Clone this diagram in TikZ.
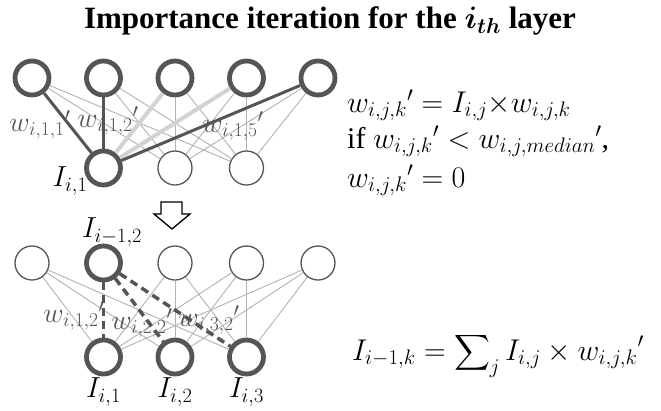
\documentclass[tikz,border=0pt]{standalone}
\usepackage{fix-cm}
\usepackage{amsmath}
\usepackage{fontspec}
\setmainfont{Liberation Serif}
\usetikzlibrary{calc}

\definecolor{netgray}{HTML}{555555}
\definecolor{linkgray}{HTML}{B2B2B2}
\definecolor{palegray}{HTML}{D2D2D2}

\tikzset{
	neuron/.style={circle, draw=netgray, line width=1.3pt, minimum size=34pt, inner sep=0pt},
	hotneuron/.style={neuron, line width=4.8pt},
	link/.style={draw=linkgray, line width=0.9pt},
	strong/.style={draw=netgray, line width=3pt},
	weak/.style={draw=palegray, line width=4pt},
	kept/.style={draw=netgray, line width=3.5pt, dash pattern=on 8pt off 5pt},
	weight/.style={font=\fontsize{28}{28}\selectfont, text=netgray, inner sep=0pt},
	imp/.style={font=\fontsize{29}{29}\selectfont, inner sep=0pt},
	formula/.style={font=\fontsize{30}{34}\selectfont, inner sep=0pt, anchor=base west}
}

\begin{document}
\begin{tikzpicture}[x=1pt, y=-1pt]
		%%%%% START %%%%%
		\useasboundingbox (0,0) rectangle (661,410);
		
		\node[font=\fontsize{31}{36}\selectfont\bfseries, inner sep=0pt] (title) at (330,21)
			{Importance iteration for the {\boldmath$i_{th}$} layer};
		
		% upper network: importance of the weights
		\foreach \k in {1,...,5}
			\node[hotneuron] (t\k) at ({32+71.5*(\k-1)},78) {};
		\node[hotneuron] (b1) at (103.5,168) {};
		\node[neuron] (b2) at (175,168) {};
		\node[neuron] (b3) at (246.5,168) {};
		
		\foreach \k in {1,...,5}
			\foreach \j in {2,3}
				\draw[link] (t\k) -- (b\j);
		\draw[weak] (t3) -- (b1);
		\draw[weak] (t4) -- (b1);
		\draw[strong] (t1) -- (b1);
		\draw[strong] (t2) -- (b1);
		\draw[strong] (t5) -- (b1);
		
		\node[weight] (w11) at (40,125) {$w_{i,1,1}{}'$};
		\node[weight] (w12) at (108,121) {${w_{i,1,2}}'$};
		\node[weight] (w15) at (233,126) {${w_{i,1,5}}'$};
		\node[imp] (ib1) at (70,181) {$I_{i,1}$};
		
		\node[formula] (eq1) at (347,112) {${w_{i,j,k}}' = I_{i,j}{\times}w_{i,j,k}$};
		\node[formula] (eq2) at (347,148) {if ${w_{i,j,k}}' < {w_{i,j,median}}'$,};
		\node[formula] (eq3) at (347,187) {${w_{i,j,k}}' = 0$};
		
		% hollow arrow
		\draw[line width=1.3pt, line join=miter] (161,202) -- (182,202) -- (182,214) -- (190,214)
			-- (172,229) -- (154,214) -- (161,214) -- cycle;
		
		% lower network: importance of the previous layer
		\node[neuron] (u1) at (32,263) {};
		\node[hotneuron] (u2) at (103.5,263) {};
		\node[neuron] (u3) at (175,263) {};
		\node[neuron] (u4) at (246.5,263) {};
		\node[neuron] (u5) at (318,263) {};
		\foreach \j in {1,2,3}
			\node[hotneuron] (v\j) at ({103.5+71.5*(\j-1)},357) {};
		
		\foreach \k in {1,3,4,5}
			\foreach \j in {1,2,3}
				\draw[link] (u\k) -- (v\j);
		\foreach \j in {1,2,3}
			\draw[kept] (u2) -- (v\j);
		
		\node[imp] (iu2) at (112,232) {$I_{i-1,2}$};
		\node[weight] (x12) at (74,316) {${w_{i,1,2}}'$};
		\node[weight] (x22) at (142,323) {${w_{i,2,2}}'$};
		\node[weight] (x32) at (209,320) {${w_{i,3,2}}'$};
		\foreach \j in {1,2,3}
			\node[imp] (iv\j) at ($(v\j)+(0,35)$) {$I_{i,\j}$};
		
		\node[formula] (eq4) at (352,360)
			{$I_{i-1,k} = \displaystyle\sum\nolimits_j I_{i,j} \times {w_{i,j,k}}'$};
		%%%%% END %%%%%
\end{tikzpicture}
\end{document}
